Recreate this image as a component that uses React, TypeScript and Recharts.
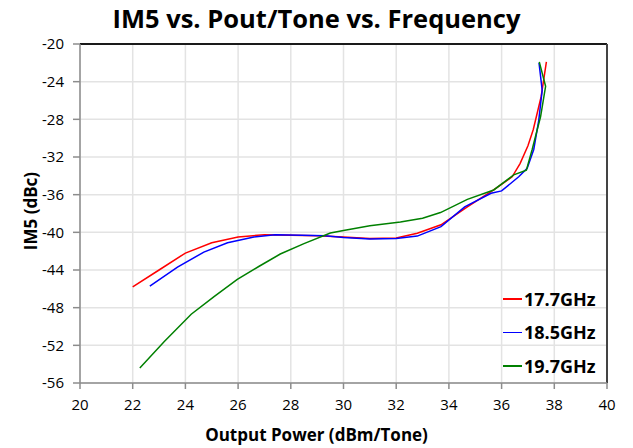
import { CartesianGrid, Line, LineChart, ReferenceLine, XAxis, YAxis } from "recharts";

const FONT = "'Open Sans', sans-serif";

// 17.7 GHz
const red = [
    { x: 22.0, y: -45.8 }, { x: 23.0, y: -44.0 }, { x: 24.0, y: -42.2 }, { x: 25.0, y: -41.1 },
    { x: 26.0, y: -40.5 }, { x: 27.0, y: -40.25 }, { x: 28.0, y: -40.3 }, { x: 29.0, y: -40.35 },
    { x: 30.0, y: -40.5 }, { x: 31.0, y: -40.65 }, { x: 32.0, y: -40.6 }, { x: 32.8, y: -40.1 },
    { x: 33.7, y: -39.2 }, { x: 34.7, y: -37.3 }, { x: 35.7, y: -35.5 }, { x: 36.4, y: -34.1 },
    { x: 36.7, y: -32.7 }, { x: 37.0, y: -30.8 }, { x: 37.2, y: -29.1 }, { x: 37.5, y: -25.6 },
    { x: 37.7, y: -21.9 },
];

// 18.5 GHz
const blue = [
    { x: 22.65, y: -45.7 }, { x: 23.7, y: -43.7 }, { x: 24.7, y: -42.1 }, { x: 25.6, y: -41.1 },
    { x: 26.6, y: -40.5 }, { x: 27.4, y: -40.25 }, { x: 28.4, y: -40.3 }, { x: 29.3, y: -40.35 },
    { x: 30.0, y: -40.55 }, { x: 31.0, y: -40.7 }, { x: 32.0, y: -40.65 }, { x: 32.8, y: -40.4 },
    { x: 33.7, y: -39.4 }, { x: 34.6, y: -37.3 }, { x: 35.6, y: -35.85 }, { x: 36.0, y: -35.6 },
    { x: 36.65, y: -34.1 }, { x: 36.97, y: -33.2 }, { x: 37.22, y: -31.2 }, { x: 37.41, y: -28.1 },
    { x: 37.54, y: -24.9 }, { x: 37.42, y: -22.0 },
];

// 19.7 GHz
const green = [
    { x: 22.27, y: -54.4 }, { x: 23.2, y: -51.6 }, { x: 24.22, y: -48.7 }, { x: 25.1, y: -46.8 },
    { x: 25.97, y: -45.0 }, { x: 26.8, y: -43.6 }, { x: 27.6, y: -42.3 }, { x: 28.5, y: -41.2 },
    { x: 29.5, y: -40.07 }, { x: 30.0, y: -39.8 }, { x: 31.0, y: -39.3 }, { x: 32.16, y: -38.9 },
    { x: 33.0, y: -38.5 }, { x: 33.68, y: -37.9 }, { x: 34.7, y: -36.5 }, { x: 35.7, y: -35.5 },
    { x: 36.46, y: -33.9 }, { x: 36.94, y: -33.4 }, { x: 37.16, y: -31.2 }, { x: 37.48, y: -27.7 },
    { x: 37.67, y: -24.5 }, { x: 37.43, y: -21.9 },
];

const xTicks = [20, 22, 24, 26, 28, 30, 32, 34, 36, 38, 40];
const yTicks = [-56, -52, -48, -44, -40, -36, -32, -28, -24, -20];

const series = [
    { name: "17.7GHz", color: "#ff0000", data: red },
    { name: "18.5GHz", color: "#0000ff", data: blue },
    { name: "19.7GHz", color: "#008000", data: green },
];

export default function App() {
    const tickStyle = { fill: "#000", fontSize: 15, fontFamily: FONT };
    return (
        <div style={{ position: "absolute", left: 0, top: 0, width: 633, height: 448, background: "#fff" }}>
            <div
                style={{
                    position: "absolute", left: 0, top: 0, width: 633, textAlign: "center",
                    fontFamily: FONT, fontWeight: 700, fontSize: 25.5, lineHeight: "36px", color: "#000",
                }}
            >
                IM5 vs. Pout/Tone vs. Frequency
            </div>
            <div
                style={{
                    position: "absolute", left: 30, top: 211, transform: "translate(-50%, -50%) rotate(-90deg)",
                    fontFamily: FONT, fontWeight: 700, fontSize: 17, color: "#000", whiteSpace: "nowrap",
                }}
            >
                IM5 (dBc)
            </div>
            <div
                style={{
                    position: "absolute", left: 0, top: 423, width: 633, textAlign: "center",
                    fontFamily: FONT, fontWeight: 700, fontSize: 17, color: "#000",
                }}
            >
                Output Power (dBm/Tone)
            </div>
            <LineChart width={633} height={448} margin={{ top: 44, right: 26, left: 30, bottom: 35 }}>
                <CartesianGrid stroke="#e3e3e3" strokeWidth={1.5} />
                <XAxis
                    type="number"
                    dataKey="x"
                    domain={[20, 40]}
                    ticks={xTicks}
                    allowDataOverflow
                    height={30}
                    tick={tickStyle}
                    tickSize={6}
                    tickMargin={10}
                    stroke="#8c8c8c"
                    strokeWidth={1.5}
                />
                <YAxis
                    type="number"
                    domain={[-56, -20]}
                    ticks={yTicks}
                    allowDataOverflow
                    width={50}
                    tick={tickStyle}
                    tickSize={7}
                    tickMargin={9}
                    stroke="#8c8c8c"
                    strokeWidth={1.5}
                />
                <ReferenceLine y={-20} stroke="#1a1a1a" strokeWidth={2} />
                <ReferenceLine x={40} stroke="#444" strokeWidth={2} />
                {series.map((s) => (
                    <Line
                        key={s.name}
                        data={s.data}
                        dataKey="y"
                        name={s.name}
                        type="linear"
                        stroke={s.color}
                        strokeWidth={1.5}
                        dot={false}
                        isAnimationActive={false}
                    />
                ))}
            </LineChart>
            <div style={{ position: "absolute", left: 503, top: 282, fontFamily: FONT }}>
                {series.map((s) => (
                    <div key={s.name} style={{ display: "flex", alignItems: "center", height: 33.5 }}>
                        <div style={{ width: 19, height: 1.5, background: s.color, marginRight: 2 }} />
                        <span style={{ fontSize: 18, fontWeight: 700, color: "#000" }}>{s.name}</span>
                    </div>
                ))}
            </div>
        </div>
    );
}
